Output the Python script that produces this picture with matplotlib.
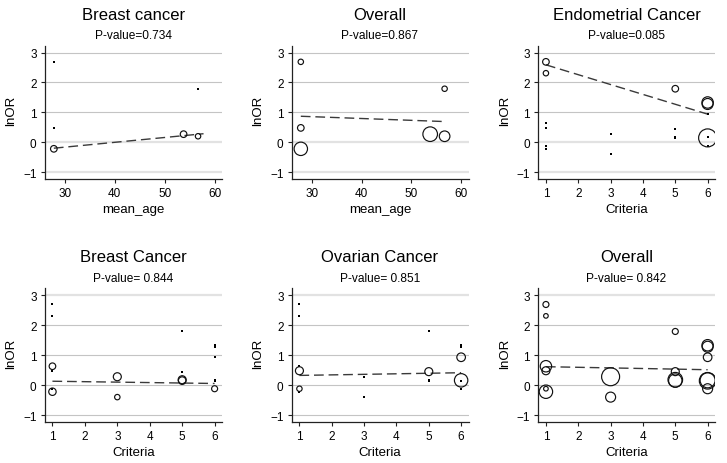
import matplotlib
matplotlib.use("Agg")
import matplotlib.pyplot as plt
import numpy as np

plt.rcParams['font.family'] = ['Liberation Sans', 'DejaVu Sans']

# ---------------- data ----------------
# mean_age panels
age = [27.8, 27.8, 27.8, 53.8, 56.7, 56.7]
lnor_age = [2.69, 0.48, -0.22, 0.27, 0.20, 1.79]
w_age_breast = [0, 0, 3.3, 3.3, 2.7, 0]      # bubble weight (0 = not in subgroup)
w_age_all = [2.7, 3.3, 6.7, 7.3, 5.3, 2.7]

# criteria panels
criteria = [1, 1, 1, 1, 1, 1, 3, 3, 5, 5, 5, 5, 6, 6, 6, 6, 6, 6]
lnor_crit = [2.69, 2.31, 0.63, 0.48, -0.12, -0.22, 0.28, -0.40,
             1.79, 0.45, 0.18, 0.15, 1.33, 1.28, 0.93, 0.145, 0.16, -0.12]
w_endo = [3.3, 2.7, 0, 0, 0, 0, 0, 0, 3.3, 0, 0, 0, 5.7, 5.5, 0, 9.0, 0, 0]
w_breast = [0, 0, 3.3, 0, 0, 3.7, 4.0, 2.7, 0, 0, 4.0, 3.8, 0, 0, 0, 0, 0, 3.0]
w_ovar = [0, 0, 0, 4.0, 2.7, 0, 0, 0, 0, 4.0, 0, 0, 0, 0, 4.3, 0, 6.7, 0]
w_all = [3.0, 2.3, 5.7, 4.0, 2.3, 6.7, 9.0, 5.0, 3.0, 4.0, 7.3, 6.7,
         5.7, 5.5, 4.3, 8.3, 7.5, 5.0]

titles = ["Breast cancer", "Overall", "Endometrial Cancer",
          "Breast Cancer", "Ovarian Cancer", "Overall"]
pvalues = ["P-value=0.734", "P-value=0.867", "P-value=0.085",
           "P-value= 0.844", "P-value= 0.851", "P-value= 0.842"]
xlabels = ["mean_age", "mean_age", "Criteria", "Criteria", "Criteria", "Criteria"]
# fitted meta-regression lines: intercept, slope, x-range
fit_intercept = [-0.649, 1.04, 2.92, 0.145, 0.306, 0.635]
fit_slope = [0.01616, -0.00614, -0.33, -0.015, 0.018, -0.0202]
fit_xmin = [27.8, 27.8, 1, 1, 1, 1]
fit_xmax = [57.8, 57.0, 6, 6, 6, 6]

yticks = [-1, 0, 1, 2, 3]
age_ticks = [30, 40, 50, 60]
crit_ticks = [1, 2, 3, 4, 5, 6]

panels = [
    (age, lnor_age, w_age_breast),
    (age, lnor_age, w_age_all),
    (criteria, lnor_crit, w_endo),
    (criteria, lnor_crit, w_breast),
    (criteria, lnor_crit, w_ovar),
    (criteria, lnor_crit, w_all),
]

# ---------------- layout ----------------
W, H = 727, 464
DPI = 100
fig = plt.figure(figsize=(W / DPI, H / DPI), dpi=DPI)

col_left = [44.5, 291.5, 538.0]
col_w = [177.5, 177.0, 177.0]
row_top = [46.7, 289.3]
row_h = [133.3, 133.7]

px2pt = 72.0 / DPI

for i, (xs, ys, ws) in enumerate(panels):
    r, c = divmod(i, 3)
    left, width = col_left[c], col_w[c]
    top, height = row_top[r], row_h[r]
    ax = fig.add_axes([left / W, 1 - (top + height) / H, width / W, height / H])

    xs = np.asarray(xs, float)
    ys = np.asarray(ys, float)
    ws = np.asarray(ws, float)

    # grid lines
    soft = [0, -1] if r == 0 else [3]
    for yv in yticks:
        if yv in soft:
            ax.axhline(yv, color='#e2e2e2', lw=1.6, zorder=0)
        else:
            ax.axhline(yv, color='#c4c4c4', lw=0.8, zorder=0)

    # tiny dots (studies outside subgroup)
    m = ws == 0
    ax.scatter(xs[m], ys[m], s=1.6, marker='s', color='black', lw=0, zorder=3)
    # bubbles
    m = ws > 0
    ax.scatter(xs[m], ys[m], s=(2 * ws[m] * px2pt) ** 2, facecolors='none',
               edgecolors='#111111', linewidths=0.85, zorder=4)

    # fitted line
    xf = np.array([fit_xmin[i], fit_xmax[i]])
    ax.plot(xf, fit_intercept[i] + fit_slope[i] * xf, color='#3a3a3a', lw=1.0,
            dashes=(7, 3.5), zorder=2)

    ax.set_ylim(-1.23, 3.23)
    if xlabels[i] == "mean_age":
        ax.set_xlim(25.93, 61.5)
        ax.set_xticks(age_ticks)
    else:
        ax.set_xlim(0.755, 6.228)
        ax.set_xticks(crit_ticks)
    ax.set_yticks(yticks)

    for s in ['top', 'right']:
        ax.spines[s].set_visible(False)
    for s in ['left', 'bottom']:
        ax.spines[s].set_linewidth(0.9)
        ax.spines[s].set_color('#222222')
    ax.tick_params(direction='out', length=3.2, width=0.8, labelsize=8.5,
                   pad=2.5, colors='#222222', labelcolor='black')
    ax.set_facecolor('none')

    cx = (left + width / 2) / W
    fig.text(cx, 1 - (top - 31.7) / H, titles[i], ha='center', va='center',
             fontsize=12)
    fig.text(cx, 1 - (top - 10.5) / H, pvalues[i], ha='center', va='center',
             fontsize=8.6)
    fig.text(cx, 1 - (top + height + 30.5) / H, xlabels[i], ha='center',
             va='center', fontsize=9.5)
    fig.text((left - 33) / W, 1 - (top + height / 2 - 2) / H, "lnOR",
             ha='center', va='center', rotation=90, fontsize=9.5)

fig.savefig("out.png", dpi=DPI, facecolor='white')
